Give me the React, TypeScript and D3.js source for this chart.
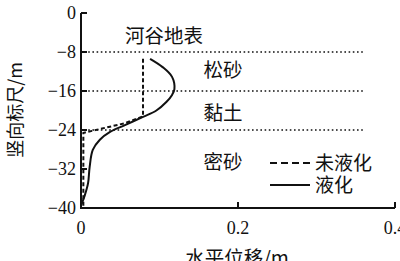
import React from "react";
import * as d3 from "d3";

const yTicks = [0, -8, -16, -24, -32, -40];
const xTicks = [0, 0.2, 0.4];
const xTickLabels = ["0", "0.2", "0.4"];
const layerBounds = [-8, -16, -24];
const layerLabels = [
  { text: "河谷地表", depth: -4.7, x: 0.056 },
  { text: "松砂", depth: -11.7, x: 0.156 },
  { text: "黏土", depth: -20.5, x: 0.156 },
  { text: "密砂", depth: -30.6, x: 0.156 },
];

// 未液化 (not liquefied)
const unliqX = [0.079, 0.079, 0.056, 0.003, 0.003];
const unliqY = [-9.4, -21.2, -22.6, -24.6, -40];

// 液化 (liquefied)
const liqX = [0.088, 0.104, 0.116, 0.119, 0.116, 0.109, 0.096, 0.079, 0.056, 0.037, 0.024, 0.015, 0.011, 0.009, 0.005, 0.0];
const liqY = [-9.4, -11.1, -13.1, -15.6, -16.8, -18.2, -20.0, -21.3, -23.0, -24.4, -26.0, -28.1, -31.6, -34.9, -37.3, -39.5];

const W = 400;
const H = 261;

export default function App() {
  const x = d3.scaleLinear().domain([0, 0.4]).range([81, 395]);
  const y = d3.scaleLinear().domain([0, -40]).range([13, 208]);

  const line = d3
    .line<[number, number]>()
    .x((d) => x(d[0]))
    .y((d) => y(d[1]));
  const curve = d3
    .line<[number, number]>()
    .x((d) => x(d[0]))
    .y((d) => y(d[1]))
    .curve(d3.curveCatmullRom.alpha(0.5));

  const unliq: [number, number][] = unliqX.map((v, i) => [v, unliqY[i]]);
  const liq: [number, number][] = liqX.map((v, i) => [v, liqY[i]]);

  const serif = "'Liberation Serif', 'DejaVu Serif', serif";
  const cjk = "'Noto Sans CJK SC', sans-serif";

  return (
    <svg
      width={W}
      height={H}
      viewBox={`0 0 ${W} ${H}`}
      style={{ position: "absolute", left: 0, top: 0, background: "#fff" }}
    >
      {/* layer boundaries */}
      {layerBounds.map((b) => (
        <line
          key={b}
          x1={x(0) + 3}
          x2={365}
          y1={y(b)}
          y2={y(b)}
          stroke="#111"
          strokeWidth={1.6}
          strokeDasharray="1.6 2.6"
        />
      ))}

      {/* axes */}
      <line x1={x(0)} x2={x(0)} y1={y(0)} y2={y(-40) + 1} stroke="#111" strokeWidth={2} />
      <line x1={x(0)} x2={x(0.4)} y1={y(-40)} y2={y(-40)} stroke="#111" strokeWidth={2} />
      {yTicks.map((t) => (
        <g key={t}>
          <line x1={x(0)} x2={x(0) + 6} y1={y(t)} y2={y(t)} stroke="#111" strokeWidth={2} />
          <text
            x={x(0) - 5}
            y={y(t)}
            dy="0.35em"
            textAnchor="end"
            fontFamily={serif}
            fontSize={18}
            fill="#111"
          >
            {t === 0 ? "0" : "−" + Math.abs(t)}
          </text>
        </g>
      ))}
      {xTicks.map((t, i) => (
        <g key={t}>
          {i > 0 && (
            <line x1={x(t)} x2={x(t)} y1={y(-40)} y2={y(-40) - 6} stroke="#111" strokeWidth={2} />
          )}
          <text
            x={x(t)}
            y={y(-40) + 20}
            dy="0.35em"
            textAnchor="middle"
            fontFamily={serif}
            fontSize={18}
            fill="#111"
          >
            {xTickLabels[i]}
          </text>
        </g>
      ))}

      {/* curves */}
      <path d={line(unliq) || ""} fill="none" stroke="#111" strokeWidth={2} strokeDasharray="4 2.5" />
      <path d={curve(liq) || ""} fill="none" stroke="#111" strokeWidth={2} />

      {/* layer labels */}
      {layerLabels.map((l) => (
        <text
          key={l.text}
          x={x(l.x)}
          y={y(l.depth)}
          dy="0.35em"
          fontFamily={cjk}
          fontSize={19.5}
          fill="#111"
        >
          {l.text}
        </text>
      ))}

      {/* legend */}
      <line x1={270} x2={310} y1={163} y2={163} stroke="#111" strokeWidth={2.2} strokeDasharray="7 4" />
      <text x={315} y={163} dy="0.35em" fontFamily={cjk} fontSize={19} fill="#111">
        未液化
      </text>
      <line x1={270} x2={310} y1={185} y2={185} stroke="#111" strokeWidth={2.2} />
      <text x={315} y={185} dy="0.35em" fontFamily={cjk} fontSize={19} fill="#111">
        液化
      </text>

      {/* axis titles */}
      <text
        x={237}
        y={265}
        textAnchor="middle"
        fontFamily={cjk}
        fontSize={19.5}
        fill="#111"
      >
        水平位移/m
      </text>
      <text
        transform={`translate(16, 110) rotate(-90)`}
        textAnchor="middle"
        dy="0.35em"
        fontFamily={cjk}
        fontSize={18}
        fill="#111"
      >
        竖向标尺/m
      </text>
    </svg>
  );
}
